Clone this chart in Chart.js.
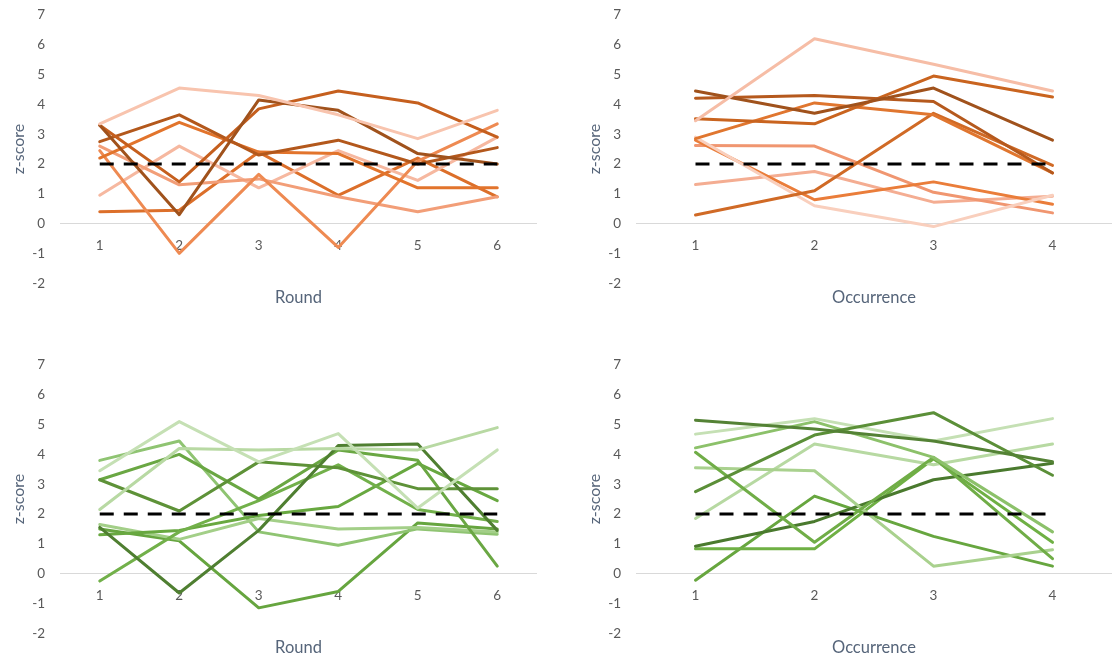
<!DOCTYPE html>
<html>
<head>
<meta charset="utf-8">
<script src="https://cdn.jsdelivr.net/npm/chart.js@4.4.1/dist/chart.umd.min.js"></script>
<style>
  html, body { margin: 0; padding: 0; background: #fff; width: 1117px; height: 659px; overflow: hidden; }
  canvas { position: absolute; }
</style>
</head>
<body>
<canvas id="roundOrangeChart" width="545" height="309" style="left:0;top:0"></canvas>
<canvas id="occurrenceOrangeChart" width="541" height="309" style="left:576px;top:0"></canvas>
<canvas id="roundGreenChart" width="545" height="309" style="left:0;top:350px"></canvas>
<canvas id="occurrenceGreenChart" width="541" height="309" style="left:576px;top:350px"></canvas>
<script>
// Category labels
const roundLabels = ['1', '2', '3', '4', '5', '6'];
const occurrenceLabels = ['1', '2', '3', '4'];

// Reference threshold (z = 2)
const thresholdRound = [2, 2, 2, 2, 2, 2];
const thresholdOccurrence = [2, 2, 2, 2];

// z-scores by round, orange group
const roundOrange = [
  [3.35, 4.55, 4.3, 3.65, 2.85, 3.8],
  [3.3, 0.3, 4.15, 3.8, 2.35, 2.0],
  [3.3, 1.4, 3.85, 4.45, 4.05, 2.9],
  [2.75, 3.65, 2.3, 2.8, 2.0, 2.55],
  [2.2, 3.4, 2.4, 2.35, 1.2, 1.2],
  [2.45, -1.0, 1.65, -0.8, 2.1, 3.35],
  [2.6, 1.3, 1.5, 0.9, 0.4, 0.9],
  [0.95, 2.6, 1.2, 2.45, 1.45, 2.9],
  [0.4, 0.45, 2.4, 0.95, 2.2, 0.9]
];
const roundOrangeColors = ['#f8c4ae', '#a0521c', '#c55f1e', '#b3581c', '#e2742c', '#ee8a52', '#f29e78', '#f6b8a0', '#dc6f2a'];

// z-scores by occurrence, orange group
const occurrenceOrange = [
  [3.45, 6.2, 5.35, 4.45],
  [4.45, 3.7, 4.55, 2.8],
  [4.21, 4.3, 4.1, 1.7],
  [3.52, 3.35, 4.95, 4.25],
  [2.85, 4.05, 3.65, 1.7],
  [0.29, 1.1, 3.7, 1.95],
  [2.9, 0.6, -0.1, 0.95],
  [2.8, 0.8, 1.4, 0.65],
  [2.62, 2.6, 1.05, 0.36],
  [1.31, 1.75, 0.72, 0.92]
];
const occurrenceOrangeColors = ['#f6bda6', '#a0521c', '#b5591d', '#c9641f', '#e0762f', '#d06a26', '#f9cfbd', '#ea7d3a', '#f09670', '#f4ad92'];

// z-scores by round, green group
const roundGreen = [
  [3.45, 5.1, 3.75, 4.7, 2.2, 4.15],
  [2.15, 4.2, 4.15, 4.2, 4.15, 4.9],
  [1.55, -0.65, 1.45, 4.3, 4.35, 1.45],
  [3.15, 2.1, 3.75, 3.55, 2.85, 2.85],
  [3.15, 4.0, 2.5, 4.15, 3.8, 0.25],
  [-0.25, 1.4, 2.45, 3.65, 2.15, 1.75],
  [1.3, 1.45, 1.95, 2.25, 3.7, 2.45],
  [1.65, 1.15, 1.85, 1.5, 1.55, 1.4],
  [3.8, 4.45, 1.4, 0.95, 1.5, 1.32],
  [1.5, 1.1, -1.15, -0.6, 1.7, 1.5]
];
const roundGreenColors = ['#c5e0b4', '#b8d9a3', '#4f7f31', '#5e9238', '#6aa743', '#72b04a', '#68a840', '#a3cf88', '#8fc472', '#66a53f'];

// z-scores by occurrence, green group
const occurrenceGreen = [
  [5.15, 4.85, 4.45, 3.75],
  [2.75, 4.65, 5.4, 3.3],
  [4.68, 5.2, 4.45, 5.2],
  [4.22, 5.1, 3.9, 1.4],
  [4.07, 1.05, 3.9, 0.5],
  [3.55, 3.45, 0.25, 0.8],
  [1.85, 4.35, 3.65, 4.35],
  [0.92, 1.75, 3.15, 3.7],
  [0.83, 0.83, 3.85, 1.05],
  [-0.22, 2.6, 1.25, 0.25]
];
const occurrenceGreenColors = ['#548235', '#5b8f38', '#c5e0b4', '#8cc16a', '#70ad47', '#a9d18e', '#b7d9a2', '#4a7a2e', '#6fb044', '#67a63f'];

const tickColor = '#595959';
const titleColor = '#56657a';
const fontFamily = 'Lato, "Open Sans", sans-serif';

function makePanel(canvasId, labels, series, colors, threshold, xTitle, rightPad) {
  const datasets = [{
    data: threshold,
    borderColor: '#000000',
    borderWidth: 3.2,
    borderDash: [14, 10],
    borderCapStyle: 'butt',
    pointRadius: 0,
    fill: false
  }];
  series.forEach((values, i) => {
    datasets.push({
      data: values,
      borderColor: colors[i],
      borderWidth: 3,
      borderJoinStyle: 'round',
      borderCapStyle: 'round',
      pointRadius: 0,
      fill: false
    });
  });

  return new Chart(document.getElementById(canvasId), {
    type: 'line',
    data: { labels, datasets },
    options: {
      responsive: false,
      animation: false,
      devicePixelRatio: 1,
      layout: { padding: { top: 15, left: 0, right: rightPad, bottom: 1 } },
      elements: { line: { tension: 0 }, point: { radius: 0, hoverRadius: 0 } },
      plugins: {
        legend: { display: false },
        tooltip: { enabled: false },
        title: {
          display: true,
          position: 'bottom',
          fullSize: false,
          text: xTitle,
          color: titleColor,
          font: { family: fontFamily, size: 16.5, weight: 'normal' },
          padding: { top: 5, bottom: 0 }
        }
      },
      scales: {
        x: {
          type: 'category',
          position: { y: 0 },
          offset: true,
          grid: { display: false, drawTicks: false },
          border: { display: false },
          ticks: {
            color: tickColor,
            font: { family: fontFamily, size: 13.5 },
            padding: 14,
            maxRotation: 0,
            autoSkip: false
          },
          afterFit: (scale) => { scale.paddingTop = 0; scale.paddingBottom = 0; }
        },
        y: {
          min: -2,
          max: 7,
          ticks: {
            stepSize: 1,
            color: tickColor,
            font: { family: fontFamily, size: 13.5 },
            padding: 15
          },
          grid: {
            drawTicks: false,
            lineWidth: 1,
            color: (ctx) => (ctx.tick && ctx.tick.value === 0 ? '#d9d9d9' : 'rgba(0,0,0,0)')
          },
          border: { display: false },
          title: {
            display: true,
            text: 'z-score',
            color: titleColor,
            font: { family: fontFamily, size: 16 },
            padding: { top: 9, bottom: 0 }
          },
          afterFit: (scale) => {
            scale.width = 60;
            scale.paddingTop = 0;
            scale.paddingBottom = 0;
          }
        }
      }
    }
  });
}

makePanel('roundOrangeChart', roundLabels, roundOrange, roundOrangeColors, thresholdRound, 'Round', 8);
makePanel('occurrenceOrangeChart', occurrenceLabels, occurrenceOrange, occurrenceOrangeColors, thresholdOccurrence, 'Occurrence', 5);
makePanel('roundGreenChart', roundLabels, roundGreen, roundGreenColors, thresholdRound, 'Round', 8);
makePanel('occurrenceGreenChart', occurrenceLabels, occurrenceGreen, occurrenceGreenColors, thresholdOccurrence, 'Occurrence', 5);
</script>
</body>
</html>
